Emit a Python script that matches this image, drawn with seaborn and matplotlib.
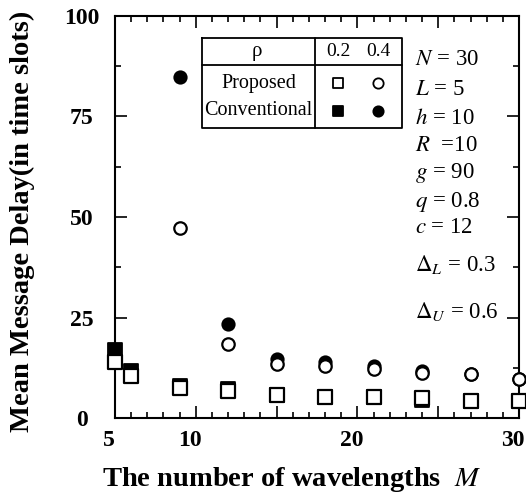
import matplotlib
matplotlib.use("Agg")
import matplotlib.pyplot as plt
from matplotlib.ticker import FixedLocator, MultipleLocator, FixedFormatter
from matplotlib.transforms import ScaledTranslation
import seaborn as sns
import pandas as pd

# ---- data ----
M_prop02 = [5, 6, 9, 12, 15, 18, 21, 24, 27, 30]
prop_02 = [14.0, 10.4, 7.4, 6.6, 5.7, 5.1, 5.1, 4.9, 4.2, 4.2]
M_conv02 = [5, 6, 9, 12, 15, 18, 21, 24, 27, 30]
conv_02 = [16.9, 11.7, 7.9, 7.2, 5.8, 5.1, 5.1, 4.4, 4.2, 4.2]
M_prop04 = [9, 12, 15, 18, 21, 24, 27, 30]
prop_04 = [47.3, 18.4, 13.4, 12.9, 12.1, 11.3, 10.9, 9.8]
M_conv04 = [9, 12, 15, 18, 21, 24, 27, 30]
conv_04 = [84.9, 23.4, 14.8, 14.0, 12.9, 11.7, 11.0, 9.8]

x_ticks = [5, 10, 15, 20, 25, 30]
x_tick_labels = ["5", "10", "", "20", "", "30"]
y_ticks = [0, 25, 50, 75, 100]
y_tick_labels = ["0", "25", "50", "75", "100"]

params = [r"$N$ = 30", r"$L$ = 5", r"$h$ = 10", r"$R$  =10", r"$g$ = 90",
          r"$q$ = 0.8", r"$c$ = 12", r"$\Delta_L$ = 0.3", r"$\Delta_U$ = 0.6"]
param_y = [0.891, 0.816, 0.746, 0.679, 0.609, 0.537, 0.473, 0.381, 0.264]

sns.set_style("ticks")
plt.rcParams["font.family"] = ["Liberation Serif", "DejaVu Serif"]
plt.rcParams["mathtext.fontset"] = "stix"
plt.rcParams["text.color"] = "black"
plt.rcParams["axes.labelcolor"] = "black"
plt.rcParams["xtick.color"] = "black"
plt.rcParams["ytick.color"] = "black"

fig = plt.figure(figsize=(5.26, 4.93), dpi=100)
ax = fig.add_axes([115 / 526, 75 / 493, 404 / 526, 402 / 493])

df_c02 = pd.DataFrame({"M": M_conv02, "D": conv_02})
df_c04 = pd.DataFrame({"M": M_conv04, "D": conv_04})
df_p02 = pd.DataFrame({"M": M_prop02, "D": prop_02})
df_p04 = pd.DataFrame({"M": M_prop04, "D": prop_04})

common = dict(ax=ax, clip_on=False, legend=False)
sns.scatterplot(data=df_c02, x="M", y="D", marker="s", s=90, color="black",
                edgecolor="black", linewidth=1.3, zorder=3, **common)
sns.scatterplot(data=df_c04, x="M", y="D", marker="o", s=80, color="black",
                edgecolor="black", linewidth=1.3, zorder=3, **common)
sns.scatterplot(data=df_p02, x="M", y="D", marker="s", s=90, color="white",
                edgecolor="black", linewidth=1.6, zorder=4, **common)
sns.scatterplot(data=df_p04, x="M", y="D", marker="o", s=80, color="white",
                edgecolor="black", linewidth=1.6, zorder=4, **common)

ax.set_xlim(5, 30)
ax.set_ylim(0, 100)
ax.xaxis.set_major_locator(FixedLocator(x_ticks))
ax.xaxis.set_major_formatter(FixedFormatter(x_tick_labels))
ax.xaxis.set_minor_locator(MultipleLocator(1))
ax.yaxis.set_major_locator(FixedLocator(y_ticks))
ax.yaxis.set_major_formatter(FixedFormatter(y_tick_labels))
ax.yaxis.set_minor_locator(MultipleLocator(12.5))

for sp in ax.spines.values():
    sp.set_visible(True)
    sp.set_linewidth(1.5)
    sp.set_color("black")

ax.tick_params(which="both", direction="in", top=True, right=True,
               color="black", labelcolor="black", width=1.2)
ax.tick_params(which="major", length=8.5)
ax.tick_params(which="minor", length=4.5)
ax.tick_params(axis="x", which="major", labelsize=17, pad=9)
ax.tick_params(axis="y", which="major", labelsize=17, pad=24)
for lab in ax.get_xticklabels() + ax.get_yticklabels():
    lab.set_fontweight("bold")
for lab in ax.get_yticklabels():
    lab.set_horizontalalignment("center")
shift = ScaledTranslation(-6 / 100, 0, fig.dpi_scale_trans)
for lab in ax.get_xticklabels():
    lab.set_transform(lab.get_transform() + shift)

ax.set_xlabel(r"The number of wavelengths  $M$", fontsize=20.5, fontweight="bold",
              color="black")
ax.xaxis.label.set_verticalalignment("center")
ax.xaxis.set_label_coords(0.438, -0.154)
ax.set_ylabel("Mean Message Delay(in time slots)", fontsize=20.5, fontweight="bold",
              color="black")
ax.yaxis.label.set_verticalalignment("center")
ax.yaxis.set_label_coords(-0.23, 0.49)

# legend table
tl, tr, tdiv = 0.215, 0.710, 0.495
ttop, thead, tbot = 0.945, 0.878, 0.721
T = ax.transAxes
ax.plot([tl, tr, tr, tl, tl], [ttop, ttop, tbot, tbot, ttop], color="black",
        lw=1.3, transform=T, zorder=5)
ax.plot([tl, tr], [thead, thead], color="black", lw=1.3, transform=T, zorder=5)
ax.plot([tdiv, tdiv], [ttop, tbot], color="black", lw=1.3, transform=T, zorder=5)
ax.text(0.352, 0.912, "ρ", transform=T, ha="center", va="center", fontsize=15)
ax.text(0.552, 0.912, "0.2", transform=T, ha="center", va="center", fontsize=14)
ax.text(0.651, 0.912, "0.4", transform=T, ha="center", va="center", fontsize=14)
ax.text(0.355, 0.833, "Proposed", transform=T, ha="center", va="center", fontsize=14.5)
ax.text(0.355, 0.764, "Conventional", transform=T, ha="center", va="center", fontsize=14.5)
ax.scatter([0.552], [0.833], marker="s", s=60, facecolor="white", edgecolor="black",
           linewidth=1.3, transform=T, zorder=6)
ax.scatter([0.651], [0.833], marker="o", s=55, facecolor="white", edgecolor="black",
           linewidth=1.3, transform=T, zorder=6)
ax.scatter([0.552], [0.764], marker="s", s=60, facecolor="black", edgecolor="black",
           linewidth=1.3, transform=T, zorder=6)
ax.scatter([0.651], [0.764], marker="o", s=55, facecolor="black", edgecolor="black",
           linewidth=1.3, transform=T, zorder=6)

for txt, yy in zip(params, param_y):
    ax.text(0.743, yy, txt, transform=T, ha="left", va="center", fontsize=16.5)

fig.savefig("out.png", dpi=100)
